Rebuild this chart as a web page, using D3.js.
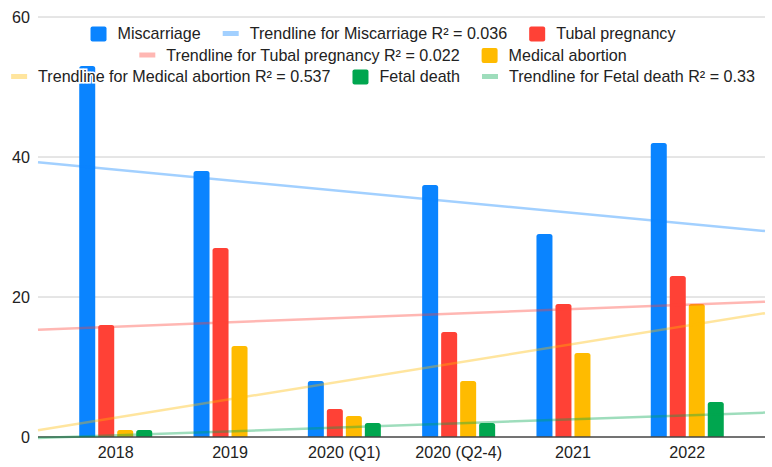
<!DOCTYPE html>
<html>
<head>
<meta charset="utf-8">
<script src="https://cdn.jsdelivr.net/npm/d3@7"></script>
<style>
  html, body { margin: 0; padding: 0; background: #fff; }
  svg { display: block; font-family: Arial, "Liberation Sans", sans-serif; }
</style>
</head>
<body>
<div id="chart"></div>
<script>
const categories = ['2018', '2019', '2020 (Q1)', '2020 (Q2-4)', '2021', '2022'];
const seriesNames = ['Miscarriage', 'Tubal pregnancy', 'Medical abortion', 'Fetal death'];
const miscarriage = [53, 38, 8, 36, 29, 42];
const tubalPregnancy = [16, 27, 4, 15, 19, 23];
const medicalAbortion = [1, 13, 3, 8, 12, 19];
const fetalDeath = [1, 0, 2, 2, 0, 5];
const yTicks = [0, 20, 40, 60];
const colors = ['#0a84ff', '#ff4136', '#ffbb00', '#00a64f'];

const seriesValues = [miscarriage, tubalPregnancy, medicalAbortion, fetalDeath];

const width = 772, height = 467;
const plot = { left: 38, right: 765, top: 17, bottom: 437 };
const fontSize = 16.1;

const svg = d3.select('#chart').append('svg')
  .attr('width', width)
  .attr('height', height);

// continuous x over the category index (trendlines need it)
const x = d3.scaleLinear()
  .domain([-0.68, categories.length - 1 + 0.68])
  .range([plot.left, plot.right]);

const y = d3.scaleLinear()
  .domain([0, 60])
  .range([plot.bottom, plot.top]);

// gridlines + y labels
svg.append('g')
  .selectAll('line')
  .data(yTicks.filter(t => t !== 0))
  .enter().append('line')
  .attr('x1', plot.left).attr('x2', plot.right)
  .attr('y1', d => y(d)).attr('y2', d => y(d))
  .attr('stroke', '#cccccc').attr('stroke-width', 1);

svg.append('g')
  .selectAll('text')
  .data(yTicks)
  .enter().append('text')
  .attr('x', 30)
  .attr('y', d => y(d))
  .attr('dy', '0.36em')
  .attr('text-anchor', 'end')
  .attr('font-size', fontSize)
  .attr('fill', '#222')
  .text(d => d);

// bars
const barW = 16, barStep = 19;
const groupW = barStep * (seriesValues.length - 1) + barW;

const bars = svg.append('g');
seriesValues.forEach((vals, s) => {
  bars.selectAll(null)
    .data(vals.map((v, i) => ({ i, v })).filter(d => d.v > 0))
    .enter().append('path')
    .attr('fill', colors[s])
    .attr('d', d => {
      const x0 = x(d.i) - groupW / 2 + s * barStep;
      const y0 = y(d.v), y1 = y(0);
      const r = 2.5;
      return `M${x0},${y1}V${y0 + r}Q${x0},${y0} ${x0 + r},${y0}H${x0 + barW - r}Q${x0 + barW},${y0} ${x0 + barW},${y0 + r}V${y1}Z`;
    });
});

// baseline
svg.append('line')
  .attr('x1', plot.left).attr('x2', plot.right)
  .attr('y1', y(0)).attr('y2', y(0))
  .attr('stroke', '#444').attr('stroke-width', 1.5);

// x labels
svg.append('g')
  .selectAll('text')
  .data(categories)
  .enter().append('text')
  .attr('x', (d, i) => x(i))
  .attr('y', 458)
  .attr('text-anchor', 'middle')
  .attr('font-size', fontSize)
  .attr('fill', '#222')
  .text(d => d);

// linear trendlines (least squares over category index)
const fits = seriesValues.map(vals => {
  const xs = vals.map((v, i) => i);
  const mx = d3.mean(xs), my = d3.mean(vals);
  const sxy = d3.sum(vals, (v, i) => (i - mx) * (v - my));
  const sxx = d3.sum(xs, i => (i - mx) * (i - mx));
  const slope = sxy / sxx, icpt = my - slope * mx;
  const sst = d3.sum(vals, v => (v - my) * (v - my));
  const r2 = slope * slope * sxx / sst;
  return { slope, icpt, r2 };
});

const trend = svg.append('g');
fits.forEach((f, s) => {
  const [d0, d1] = x.domain();
  trend.append('line')
    .attr('x1', x(d0)).attr('y1', y(f.icpt + f.slope * d0))
    .attr('x2', x(d1)).attr('y2', y(f.icpt + f.slope * d1))
    .attr('stroke', colors[s])
    .attr('stroke-opacity', 0.38)
    .attr('stroke-width', 2.5);
});

// legend
const items = [];
seriesNames.forEach((name, s) => {
  items.push({ type: 'box', s, label: name });
  items.push({ type: 'line', s, label: `Trendline for ${name} R\u00b2 = ${+fits[s].r2.toFixed(3)}` });
});
const legendRows = [[0, 1, 2], [3, 4], [5, 6, 7]];
const rowBaselines = [39, 60.5, 82];
const legendCenter = 383;

const legend = svg.append('g');
legendRows.forEach((row, r) => {
  const g = legend.append('g');
  let cx = 0;
  row.forEach((k, j) => {
    const it = items[k];
    if (j > 0) cx += 22;
    if (it.type === 'box') {
      g.append('rect')
        .attr('x', cx).attr('y', rowBaselines[r] - 12.5)
        .attr('width', 16).attr('height', 15).attr('rx', 2)
        .attr('fill', colors[it.s]);
    } else {
      g.append('line')
        .attr('x1', cx).attr('x2', cx + 16)
        .attr('y1', rowBaselines[r] - 5.5).attr('y2', rowBaselines[r] - 5.5)
        .attr('stroke', colors[it.s]).attr('stroke-opacity', 0.38)
        .attr('stroke-width', 5);
    }
    cx += 16 + 11;
    const t = g.append('text')
      .attr('x', cx).attr('y', rowBaselines[r])
      .attr('font-size', fontSize)
      .attr('fill', '#222')
      .attr('stroke', '#fff').attr('stroke-width', 3)
      .attr('paint-order', 'stroke')
      .text(it.label);
    cx += t.node().getComputedTextLength();
  });
  g.attr('transform', `translate(${legendCenter - cx / 2},0)`);
});
</script>
</body>
</html>
